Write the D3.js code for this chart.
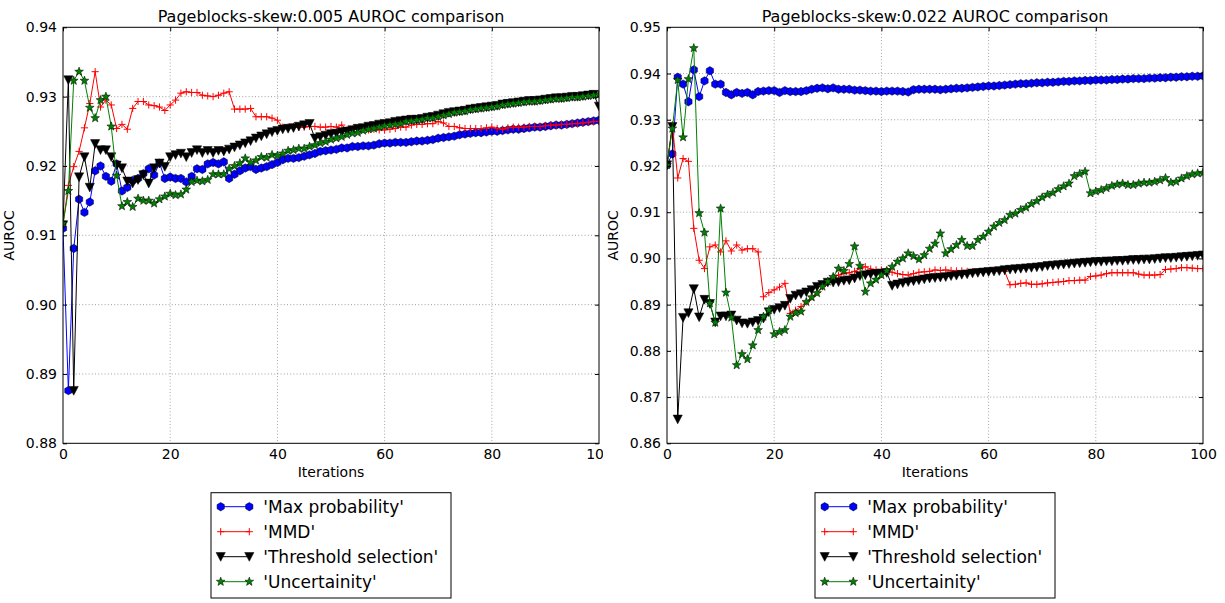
<!DOCTYPE html>
<html>
<head>
<meta charset="utf-8">
<script src="https://cdn.jsdelivr.net/npm/d3@7"></script>
<style>
  html, body { margin: 0; padding: 0; background: #fff; }
  svg { display: block; font-family: "DejaVu Sans", sans-serif; }
</style>
</head>
<body>
<svg id="chart" width="1225" height="603"></svg>
<script>
// ---------------- DATA ----------------
const iterations = [0,1,2,3,4,5,6,7,8,9,10,11,12,13,14,15,16,17,18,19,20,21,22,23,24,25,26,27,28,29,30,31,32,33,34,35,36,37,38,39,40,41,42,43,44,45,46,47,48,49,50,51,52,53,54,55,56,57,58,59,60,61,62,63,64,65,66,67,68,69,70,71,72,73,74,75,76,77,78,79,80,81,82,83,84,85,86,87,88,89,90,91,92,93,94,95,96,97,98,99,100];
const seriesNames = ["'Max probability'", "'MMD'", "'Threshold selection'", "'Uncertainity'"];
const titles = ["Pageblocks-skew:0.005 AUROC comparison", "Pageblocks-skew:0.022 AUROC comparison"];
const xTicks = [0, 20, 40, 60, 80, 100];
const yTicksLeft = [0.88, 0.89, 0.90, 0.91, 0.92, 0.93, 0.94];
const yTicksRight = [0.86, 0.87, 0.88, 0.89, 0.90, 0.91, 0.92, 0.93, 0.94, 0.95];

// Left panel (skew 0.005)
const leftMaxProb = [0.9110,0.8876,0.9081,0.9152,0.9133,0.9148,0.9193,0.9200,0.9185,0.9178,
0.9203,0.9164,0.9169,0.9179,0.9182,0.9189,0.9196,0.9187,0.9204,0.9182,
0.9184,0.9182,0.9182,0.9177,0.9185,0.9196,0.9195,0.9203,0.9205,0.9203,
0.9206,0.9182,0.9188,0.9193,0.9197,0.9199,0.9195,0.9197,0.9199,0.9202,
0.9205,0.9209,0.9211,0.9211,0.9212,0.9214,0.9216,0.9218,0.9221,0.9222,
0.9223,0.9224,0.9226,0.9226,0.9228,0.9228,0.9229,0.9229,0.9230,0.9232,
0.9233,0.9233,0.9234,0.9234,0.9234,0.9235,0.9236,0.9236,0.9237,0.9238,
0.9240,0.9241,0.9242,0.9243,0.9245,0.9246,0.9247,0.9248,0.9248,0.9249,
0.9250,0.9250,0.9251,0.9252,0.9253,0.9253,0.9254,0.9255,0.9256,0.9256,
0.9257,0.9258,0.9259,0.9259,0.9260,0.9261,0.9262,0.9263,0.9264,0.9265,0.9266];
const leftMMD = [0.9115,0.9172,0.9199,0.9221,0.9255,0.9290,0.9336,0.9285,0.9295,0.9288,
0.9254,0.9260,0.9253,0.9283,0.9293,0.9293,0.9288,0.9287,0.9285,0.9280,
0.9288,0.9295,0.9305,0.9307,0.9306,0.9306,0.9302,0.9301,0.9300,0.9302,
0.9305,0.9307,0.9282,0.9282,0.9282,0.9283,0.9271,0.9271,0.9271,0.9269,
0.9266,0.9256,0.9256,0.9257,0.9256,0.9256,0.9257,0.9257,0.9256,0.9256,
0.9257,0.9256,0.9259,0.9252,0.9253,0.9254,0.9254,0.9252,0.9253,0.9252,
0.9252,0.9253,0.9254,0.9256,0.9256,0.9259,0.9260,0.9260,0.9261,0.9261,
0.9264,0.9262,0.9257,0.9257,0.9255,0.9254,0.9254,0.9254,0.9254,0.9255,
0.9256,0.9254,0.9253,0.9255,0.9256,0.9256,0.9256,0.9257,0.9257,0.9257,
0.9258,0.9259,0.9259,0.9260,0.9260,0.9261,0.9261,0.9262,0.9263,0.9264,0.9264];
const leftThreshold = [0.9115,0.9324,0.8876,0.9184,0.9213,0.9169,0.9232,0.9223,0.9223,0.9213,
0.9201,0.9197,0.9178,0.9175,0.9180,0.9187,0.9175,0.9197,0.9204,0.9199,
0.9213,0.9216,0.9218,0.9213,0.9219,0.9223,0.9219,0.9222,0.9219,0.9222,
0.9221,0.9224,0.9227,0.9230,0.9233,0.9236,0.9240,0.9243,0.9246,0.9249,
0.9251,0.9253,0.9254,0.9255,0.9257,0.9259,0.9261,0.9240,0.9242,0.9244,
0.9246,0.9247,0.9249,0.9250,0.9252,0.9254,0.9255,0.9257,0.9258,0.9260,
0.9261,0.9262,0.9264,0.9265,0.9266,0.9267,0.9267,0.9268,0.9270,0.9271,
0.9273,0.9275,0.9277,0.9278,0.9279,0.9280,0.9282,0.9283,0.9284,0.9285,
0.9286,0.9287,0.9289,0.9290,0.9291,0.9292,0.9293,0.9294,0.9294,0.9295,
0.9296,0.9297,0.9298,0.9298,0.9299,0.9300,0.9300,0.9301,0.9302,0.9303,0.9286];
const leftUncertainty = [0.9117,0.9164,0.9323,0.9336,0.9323,0.9284,0.9269,0.9295,0.9300,0.9257,
0.9186,0.9142,0.9148,0.9141,0.9153,0.9150,0.9150,0.9146,0.9152,0.9156,
0.9160,0.9158,0.9159,0.9166,0.9177,0.9179,0.9178,0.9180,0.9188,0.9188,
0.9188,0.9196,0.9200,0.9204,0.9211,0.9205,0.9208,0.9213,0.9212,0.9216,
0.9215,0.9218,0.9222,0.9223,0.9225,0.9225,0.9228,0.9230,0.9233,0.9235,
0.9238,0.9240,0.9242,0.9245,0.9247,0.9248,0.9251,0.9253,0.9254,0.9256,
0.9258,0.9259,0.9260,0.9261,0.9264,0.9265,0.9266,0.9267,0.9269,0.9269,
0.9271,0.9273,0.9275,0.9277,0.9278,0.9279,0.9281,0.9282,0.9283,0.9284,
0.9285,0.9286,0.9288,0.9289,0.9290,0.9291,0.9292,0.9293,0.9293,0.9294,
0.9295,0.9296,0.9297,0.9297,0.9298,0.9299,0.9299,0.9300,0.9301,0.9302,0.9303];

// Right panel (skew 0.022)
const rightMaxProb = [0.9202,0.9226,0.9392,0.9377,0.9339,0.9408,0.9350,0.9384,0.9406,0.9377,
0.9377,0.9359,0.9354,0.9359,0.9357,0.9359,0.9354,0.9361,0.9362,0.9363,
0.9363,0.9359,0.9363,0.9361,0.9361,0.9361,0.9363,0.9366,0.9368,0.9369,
0.9367,0.9369,0.9366,0.9366,0.9366,0.9364,0.9364,0.9363,0.9362,0.9362,
0.9361,0.9362,0.9362,0.9362,0.9361,0.9360,0.9365,0.9366,0.9366,0.9366,
0.9366,0.9365,0.9366,0.9367,0.9368,0.9368,0.9369,0.9370,0.9371,0.9372,
0.9373,0.9373,0.9374,0.9375,0.9376,0.9377,0.9378,0.9378,0.9379,0.9380,
0.9380,0.9381,0.9381,0.9382,0.9383,0.9383,0.9384,0.9384,0.9385,0.9385,
0.9386,0.9386,0.9386,0.9387,0.9387,0.9388,0.9388,0.9389,0.9389,0.9389,
0.9390,0.9390,0.9391,0.9391,0.9392,0.9392,0.9393,0.9393,0.9394,0.9394,0.9395];
const rightMMD = [0.9202,0.9289,0.9174,0.9216,0.9210,0.9065,0.8996,0.8978,0.9025,0.9029,
0.9014,0.9038,0.9016,0.9029,0.9018,0.9021,0.9021,0.9014,0.8917,0.8926,
0.8932,0.8938,0.8946,0.8881,0.8888,0.8896,0.8906,0.8917,0.8926,0.8939,
0.8950,0.8959,0.8964,0.8967,0.8969,0.8972,0.8978,0.8982,0.8977,0.8975,
0.8975,0.8974,0.8970,0.8967,0.8965,0.8964,0.8967,0.8970,0.8971,0.8972,
0.8975,0.8974,0.8975,0.8974,0.8973,0.8973,0.8972,0.8971,0.8971,0.8972,
0.8973,0.8974,0.8975,0.8972,0.8943,0.8944,0.8946,0.8947,0.8944,0.8944,
0.8945,0.8947,0.8948,0.8949,0.8950,0.8952,0.8952,0.8953,0.8953,0.8961,
0.8962,0.8964,0.8967,0.8969,0.8969,0.8969,0.8969,0.8969,0.8966,0.8964,
0.8964,0.8964,0.8965,0.8976,0.8977,0.8978,0.8980,0.8980,0.8979,0.8978,0.8978];
const rightThreshold = [0.9202,0.9285,0.8652,0.8872,0.8882,0.8934,0.8873,0.8911,0.8902,0.8862,
0.8875,0.8875,0.8877,0.8866,0.8860,0.8859,0.8862,0.8865,0.8870,0.8884,
0.8889,0.8893,0.8898,0.8913,0.8920,0.8923,0.8927,0.8932,0.8939,0.8943,
0.8948,0.8948,0.8949,0.8952,0.8953,0.8957,0.8962,0.8964,0.8966,0.8967,
0.8968,0.8969,0.8941,0.8944,0.8947,0.8949,0.8951,0.8953,0.8955,0.8957,
0.8958,0.8959,0.8960,0.8962,0.8963,0.8965,0.8966,0.8968,0.8969,0.8970,
0.8971,0.8972,0.8973,0.8975,0.8976,0.8977,0.8978,0.8979,0.8980,0.8981,
0.8982,0.8984,0.8985,0.8986,0.8987,0.8988,0.8989,0.8990,0.8991,0.8992,
0.8993,0.8993,0.8994,0.8994,0.8995,0.8995,0.8996,0.8997,0.8997,0.8998,
0.8998,0.8999,0.9000,0.9001,0.9001,0.9002,0.9003,0.9004,0.9005,0.9006,0.9007];
const rightUncertainty = [0.9202,0.9281,0.9386,0.9262,0.9388,0.9455,0.9098,0.9056,0.8903,0.8861,
0.9108,0.8926,0.8872,0.8769,0.8793,0.8782,0.8812,0.8845,0.8874,0.8888,
0.8836,0.8841,0.8845,0.8874,0.8882,0.8885,0.8906,0.8916,0.8925,0.8939,
0.8950,0.8960,0.8978,0.8973,0.8988,0.9026,0.8984,0.8928,0.8946,0.8954,
0.8964,0.8973,0.8982,0.8993,0.9000,0.9011,0.9005,0.8998,0.9007,0.9021,
0.9032,0.9054,0.9011,0.9020,0.9029,0.9040,0.9027,0.9027,0.9040,0.9047,
0.9058,0.9069,0.9077,0.9083,0.9094,0.9097,0.9105,0.9110,0.9118,0.9124,
0.9132,0.9138,0.9142,0.9150,0.9156,0.9162,0.9178,0.9183,0.9188,0.9141,
0.9145,0.9148,0.9152,0.9157,0.9160,0.9162,0.9159,0.9159,0.9162,0.9164,
0.9164,0.9166,0.9169,0.9174,0.9164,0.9166,0.9173,0.9178,0.9182,0.9184,0.9185];

// ---------------- DRAWING ----------------
const svg = d3.select("#chart");
const FONT = "'DejaVu Sans', sans-serif";

const styles = [
  { color: "#0000ff", marker: "hex" },
  { color: "#ff0000", marker: "plus" },
  { color: "#000000", marker: "tri" },
  { color: "#008000", marker: "star" }
];

function hexPath(r) {
  const pts = d3.range(6).map(k => {
    const a = (-90 + 60 * k) * Math.PI / 180;
    return [r * Math.cos(a), r * Math.sin(a)];
  });
  return "M" + pts.map(p => p.join(",")).join("L") + "Z";
}
function starPath(r) {
  const ri = r * 0.42;
  const pts = d3.range(10).map(k => {
    const rr = k % 2 === 0 ? r : ri;
    const a = (-90 + 36 * k) * Math.PI / 180;
    return [rr * Math.cos(a), rr * Math.sin(a)];
  });
  return "M" + pts.map(p => p.join(",")).join("L") + "Z";
}
function drawMarker(g, type, color, x, y) {
  if (type === "hex") {
    g.append("path").attr("d", hexPath(4.2)).attr("transform", `translate(${x},${y})`)
      .attr("fill", color).attr("stroke", "#000").attr("stroke-width", 0.5);
  } else if (type === "plus") {
    g.append("path").attr("d", "M-3.6,0H3.6M0,-3.6V3.6").attr("transform", `translate(${x},${y})`)
      .attr("stroke", color).attr("stroke-width", 1).attr("fill", "none");
  } else if (type === "tri") {
    g.append("path").attr("d", "M-4.6,-4.2L4.6,-4.2L0,4.6Z").attr("transform", `translate(${x},${y})`)
      .attr("fill", color).attr("stroke", "#000").attr("stroke-width", 0.5);
  } else if (type === "star") {
    g.append("path").attr("d", starPath(4.6)).attr("transform", `translate(${x},${y})`)
      .attr("fill", color).attr("stroke", "#000").attr("stroke-width", 0.5);
  }
}

const panels = [
  { x0: 63, x1: 599, yDomain: [0.88, 0.94], yTicks: yTicksLeft,
    series: [leftMaxProb, leftMMD, leftThreshold, leftUncertainty], title: titles[0], clipLabelX: 603 },
  { x0: 667, x1: 1203, yDomain: [0.86, 0.95], yTicks: yTicksRight,
    series: [rightMaxProb, rightMMD, rightThreshold, rightUncertainty], title: titles[1], clipLabelX: 1225 }
];
const yTop = 27.3, yBot = 443.3;

const defs = svg.append("defs");

panels.forEach((p, pi) => {
  const x = d3.scaleLinear().domain([0, 100]).range([p.x0, p.x1]);
  const y = d3.scaleLinear().domain(p.yDomain).range([yBot, yTop]);

  defs.append("clipPath").attr("id", "plotclip" + pi)
    .append("rect").attr("x", p.x0).attr("y", yTop).attr("width", p.x1 - p.x0).attr("height", yBot - yTop);
  defs.append("clipPath").attr("id", "labelclip" + pi)
    .append("rect").attr("x", 0).attr("y", 0).attr("width", p.clipLabelX).attr("height", 603);

  const g = svg.append("g");

  // grid
  const grid = g.append("g").attr("stroke", "#000").attr("stroke-width", 0.6)
    .attr("stroke-dasharray", "1,2.2").attr("opacity", 0.6);
  xTicks.forEach(t => {
    if (t === 0 || t === 100) return;
    grid.append("line").attr("x1", x(t)).attr("x2", x(t)).attr("y1", yTop).attr("y2", yBot);
  });
  p.yTicks.forEach((t, k) => {
    if (k === 0 || k === p.yTicks.length - 1) return;
    grid.append("line").attr("x1", p.x0).attr("x2", p.x1).attr("y1", y(t)).attr("y2", y(t));
  });

  // series
  const plot = g.append("g").attr("clip-path", `url(#plotclip${pi})`);
  p.series.forEach((vals, si) => {
    const st = styles[si];
    const line = d3.line().x((d, i) => x(iterations[i])).y(d => y(d));
    plot.append("path").datum(vals).attr("d", line)
      .attr("fill", "none").attr("stroke", st.color).attr("stroke-width", 1)
      .attr("stroke-linejoin", "round");
    const mg = plot.append("g");
    vals.forEach((v, i) => drawMarker(mg, st.marker, st.color, x(iterations[i]), y(v)));
  });

  // axes using d3 axis (ticks inward)
  const xAxisB = d3.axisBottom(x).tickValues(xTicks).tickSize(-4).tickPadding(8).tickFormat(d3.format("d"));
  const xAxisT = d3.axisTop(x).tickValues(xTicks).tickSize(-4).tickFormat("");
  const yAxisL = d3.axisLeft(y).tickValues(p.yTicks).tickSize(-4).tickPadding(6).tickFormat(d3.format(".2f"));
  const yAxisR = d3.axisRight(y).tickValues(p.yTicks).tickSize(-4).tickFormat("");

  const gxb = g.append("g").attr("transform", `translate(0,${yBot})`).call(xAxisB)
    .attr("clip-path", `url(#labelclip${pi})`);
  const gxt = g.append("g").attr("transform", `translate(0,${yTop})`).call(xAxisT);
  const gyl = g.append("g").attr("transform", `translate(${p.x0},0)`).call(yAxisL);
  const gyr = g.append("g").attr("transform", `translate(${p.x1},0)`).call(yAxisR);
  [gxb, gxt, gyl, gyr].forEach(a => {
    a.select(".domain").remove();
    a.selectAll("line").attr("stroke", "#000").attr("stroke-width", 1);
    a.selectAll("text").attr("font-family", FONT).attr("font-size", 14).attr("fill", "#000");
  });
  gxb.selectAll("text").attr("dy", "0.71em").attr("y", 6);

  // frame
  g.append("rect").attr("x", p.x0).attr("y", yTop).attr("width", p.x1 - p.x0).attr("height", yBot - yTop)
    .attr("fill", "none").attr("stroke", "#000").attr("stroke-width", 1);

  // title & labels
  g.append("text").attr("x", (p.x0 + p.x1) / 2).attr("y", 22).attr("text-anchor", "middle")
    .attr("font-family", FONT).attr("font-size", 16).text(p.title);
  g.append("text").attr("x", (p.x0 + p.x1) / 2).attr("y", 477).attr("text-anchor", "middle")
    .attr("font-family", FONT).attr("font-size", 14).text("Iterations");
  g.append("text").attr("transform", `translate(${p.x0 - 49},${(yTop + yBot) / 2}) rotate(-90)`)
    .attr("text-anchor", "middle").attr("font-family", FONT).attr("font-size", 14).text("AUROC");

  // legend
  const cx = (p.x0 + p.x1) / 2;
  const lx = cx - 120, ly = 492.7, lw = 240, lh = 105.3;
  const lg = g.append("g");
  lg.append("rect").attr("x", lx).attr("y", ly).attr("width", lw).attr("height", lh)
    .attr("fill", "#fff").attr("stroke", "#000").attr("stroke-width", 1);
  seriesNames.forEach((name, si) => {
    const st = styles[si];
    const ry = 506.7 + si * 25;
    const ax = lx + 9.7, bx = lx + 38.3;
    lg.append("line").attr("x1", ax).attr("x2", bx).attr("y1", ry).attr("y2", ry)
      .attr("stroke", st.color).attr("stroke-width", 1);
    drawMarker(lg, st.marker, st.color, ax, ry);
    drawMarker(lg, st.marker, st.color, bx, ry);
    lg.append("text").attr("x", lx + 52.3).attr("y", ry).attr("dy", "0.35em")
      .attr("font-family", FONT).attr("font-size", 17).text(name);
  });
});
</script>
</body>
</html>
